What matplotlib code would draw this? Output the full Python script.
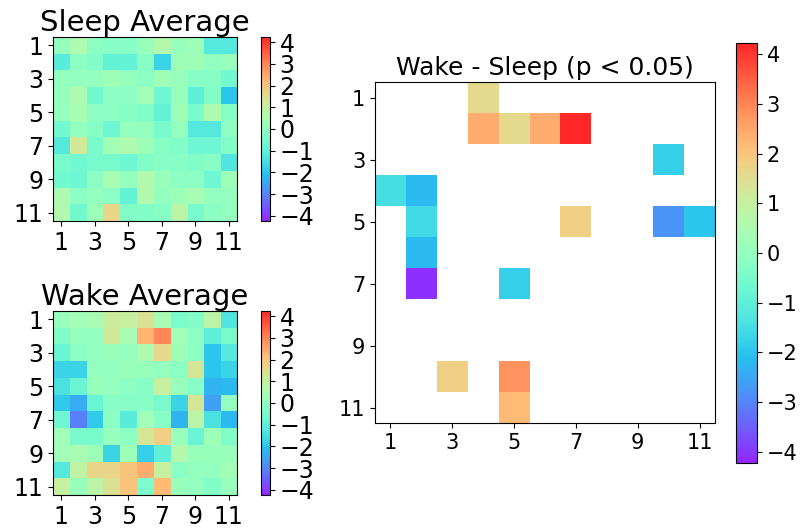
import numpy as np
import matplotlib
matplotlib.use('Agg')
import matplotlib.pyplot as plt

# channel-by-channel averages (rows/cols 1..11)
sleep_avg = [
    [0.0, 0.5, -0.1, -0.2, -0.2, 0.1, 0.6, 0.1, 0.2, -1.2, -1.2],
    [-1.1, -0.1, -0.3, -0.9, -0.9, -0.2, -1.7, 0.2, 0.2, 0.0, 0.1],
    [0.0, 0.0, 0.0, 0.2, 0.0, -0.1, 0.2, 0.1, -0.2, -0.2, -0.6],
    [0.0, 0.5, -0.6, -0.1, -0.1, 0.3, -0.7, 0.1, -1.0, -0.3, -2.0],
    [0.0, 0.4, -0.1, -0.1, -0.2, -0.3, -0.9, 0.2, -0.5, 0.5, -0.2],
    [-0.6, 0.0, -0.2, -0.7, 0.0, 0.0, -0.5, 0.0, -1.2, -1.2, -0.1],
    [-1.2, 1.2, -0.5, 0.3, 0.5, 0.2, -0.2, -0.3, -0.7, -0.7, -0.3],
    [-0.5, -0.6, -0.5, -0.5, -0.7, -0.3, -0.2, -0.2, -0.3, -0.2, -1.3],
    [-0.6, -0.7, -0.1, 0.4, 0.0, 0.6, 0.1, -0.1, -0.1, -0.7, 0.2],
    [0.5, -0.1, 0.0, -0.1, -0.9, 0.6, 0.0, 0.2, 0.4, 0.0, 0.0],
    [0.6, -0.6, 0.2, 1.7, -0.3, -0.3, -0.2, 0.8, -0.5, -0.1, 0.0],
]

wake_avg = [
    [0.1, 0.3, 0.4, 1.1, 1.0, 1.4, 0.4, -0.4, -0.3, 0.8, -1.3],
    [-0.3, 0.0, 0.0, 1.2, 0.4, 2.3, 3.0, 0.3, -0.1, -1.0, -0.5],
    [-0.8, -0.1, 0.0, 0.1, 0.0, 0.5, 1.6, 0.2, -0.1, -2.0, -1.2],
    [-1.7, -1.7, 0.0, 0.0, 0.1, 0.1, 0.0, -0.1, 1.3, -2.0, -1.7],
    [-1.4, -0.8, 0.1, 0.0, -0.1, -0.2, 1.0, 0.1, -0.2, -2.3, -2.2],
    [-1.9, -2.4, -0.8, -0.2, -0.2, -0.2, -0.5, -1.7, 1.3, -2.6, 0.0],
    [-0.7, -3.1, -1.9, -0.1, -1.1, 0.3, -0.2, -2.3, 0.8, -1.4, -2.2],
    [0.3, -0.5, -0.5, 0.1, -0.1, 1.3, 1.8, 0.1, -0.8, 0.2, -0.3],
    [0.3, 0.4, 0.2, -1.7, 0.2, -1.8, -1.0, 0.6, 0.1, 0.1, 0.1],
    [-1.2, 0.9, 1.7, 1.7, 2.0, 2.4, 1.0, -0.1, 0.0, 0.0, 0.3],
    [1.0, 0.1, 0.8, 1.4, 2.0, -0.4, 2.2, 0.1, 0.0, -0.3, 0.1],
]

# significant differences only (row, col, value), 1-based
sig_rows = [1, 2, 2, 2, 2, 3, 4, 4, 5, 5, 5, 5, 6, 7, 7, 10, 10, 11]
sig_cols = [4, 4, 5, 6, 7, 10, 1, 2, 2, 7, 10, 11, 2, 2, 5, 3, 5, 5]
sig_vals = [1.6, 2.4, 1.6, 2.4, 4.2, -1.8, -1.5, -2.2, -1.6, 1.8, -2.8, -2.0,
            -2.2, -4.1, -1.8, 1.8, 2.8, 2.2]

labels = ['1', '3', '5', '7', '9', '11']
vlim = 4.23
cmap = 'rainbow'

diff = np.full((11, 11), np.nan)
for r, c, v in zip(sig_rows, sig_cols, sig_vals):
    diff[r - 1, c - 1] = v

W, H = 811, 530
fig = plt.figure(figsize=(W / 100, H / 100), dpi=100)

def box(l, t, w, h):
    return [l / W, 1 - (t + h) / H, w / W, h / H]

def small_map(data, title, pos, cpos):
    ax = fig.add_axes(box(*pos))
    im = ax.imshow(np.array(data), cmap=cmap, vmin=-vlim, vmax=vlim,
                   alpha=0.85, aspect='auto', interpolation='nearest')
    ax.set_xticks(range(0, 11, 2))
    ax.set_yticks(range(0, 11, 2))
    ax.set_xticklabels(labels, fontsize=17)
    ax.set_yticklabels(labels, fontsize=17)
    ax.set_title(title, fontsize=21, pad=3)
    cax = fig.add_axes(box(*cpos))
    cb = fig.colorbar(im, cax=cax, ticks=range(-4, 5))
    cb.ax.tick_params(labelsize=17)
    return ax

small_map(sleep_avg, 'Sleep Average', (53, 37, 184, 184), (261, 37, 9, 184))
small_map(wake_avg, 'Wake Average', (53, 311, 184, 184), (261, 311, 9, 184))

ax = fig.add_axes(box(375, 82, 340, 341))
im = ax.imshow(diff, cmap=cmap, vmin=-vlim, vmax=vlim, alpha=0.85,
               aspect='auto', interpolation='nearest')
ax.set_xticks(range(0, 11, 2))
ax.set_yticks(range(0, 11, 2))
ax.set_xticklabels(labels, fontsize=15)
ax.set_yticklabels(labels, fontsize=15)
ax.set_title('Wake - Sleep (p < 0.05)', fontsize=18, pad=5)
cax = fig.add_axes(box(736, 43, 21, 420))
cb = fig.colorbar(im, cax=cax, ticks=range(-4, 5))
cb.ax.tick_params(labelsize=15)

plt.savefig('out.png', dpi=100)
